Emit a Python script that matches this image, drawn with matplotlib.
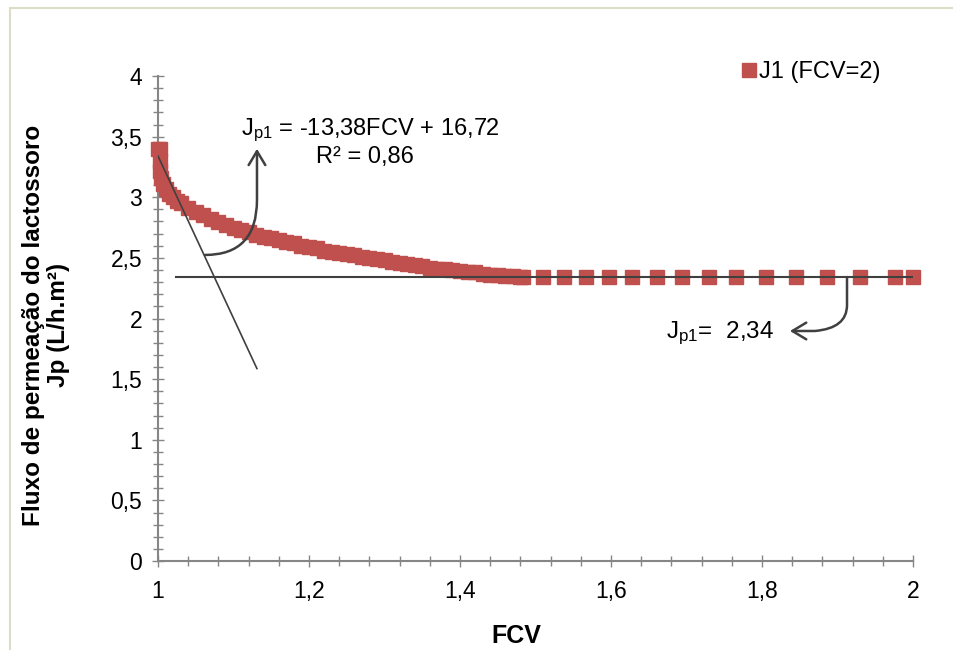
import numpy as np
import matplotlib.pyplot as plt
from matplotlib.patches import FancyArrowPatch, Rectangle
from matplotlib.path import Path
from matplotlib.ticker import MultipleLocator, FuncFormatter

plt.rcParams['font.family'] = ['Liberation Sans', 'DejaVu Sans']
plt.rcParams['mathtext.fontset'] = 'custom'
plt.rcParams['mathtext.rm'] = 'Liberation Sans'
plt.rcParams['mathtext.default'] = 'regular'

# data
fcv_dense = [1.000, 1.003, 1.002, 1.003, 1.004, 1.006, 1.010, 1.015, 1.020, 1.025,
             1.030, 1.040, 1.050, 1.060, 1.07, 1.08, 1.09, 1.10, 1.11, 1.12,
             1.13, 1.14, 1.15, 1.16, 1.17, 1.18, 1.19, 1.20, 1.21, 1.22,
             1.23, 1.24, 1.25, 1.26, 1.27, 1.28, 1.29, 1.30, 1.31, 1.32,
             1.33, 1.34, 1.35, 1.36, 1.37, 1.38, 1.39, 1.40, 1.41, 1.42,
             1.43, 1.44, 1.45, 1.46, 1.47, 1.48]
jp_dense = [3.40, 3.40, 3.30, 3.22, 3.16, 3.11, 3.07, 3.03, 3.00, 2.97,
            2.95, 2.91, 2.88, 2.85, 2.82, 2.80, 2.77, 2.75, 2.73, 2.71,
            2.69, 2.67, 2.66, 2.65, 2.63, 2.62, 2.60, 2.59, 2.58, 2.56,
            2.55, 2.54, 2.53, 2.52, 2.51, 2.50, 2.49, 2.48, 2.47, 2.46,
            2.45, 2.44, 2.43, 2.42, 2.41, 2.41, 2.40, 2.39, 2.38, 2.38,
            2.37, 2.36, 2.36, 2.35, 2.35, 2.34]
fcv_sparse = [1.483, 1.510, 1.538, 1.567, 1.597, 1.628, 1.661, 1.694, 1.730,
              1.766, 1.805, 1.845, 1.886, 1.930, 1.976, 2.000]
jp_sparse = [2.34] * len(fcv_sparse)

# trend lines
slope, intercept = -13.38, 16.72
trend_x = [1.0, 1.131]
jp_const = 2.34
const_x = [1.024, 2.0]

red = '#C0504D'
dark = '#404040'
grey = '#868686'

fig = plt.figure(figsize=(9.54, 6.5), dpi=100)
ax = fig.add_axes([158/954, 1-561/650, (913-158)/954, (561-76)/650])

fig.patches.append(Rectangle((10/954, -0.05), 1.0, 1-8/650+0.05,
                             transform=fig.transFigure, fill=False,
                             edgecolor='#DCDCC8', lw=1.5, zorder=0))

fcv = fcv_dense + fcv_sparse
jp = jp_dense + jp_sparse
ax.plot(fcv, jp, linestyle='none', marker='s', markersize=10,
        color=red, markeredgecolor=red, label='J1 (FCV=2)', zorder=3, clip_on=False)

tx = np.array(trend_x)
ax.plot(tx, slope*tx + intercept, color=dark, lw=1.2, zorder=4)
ax.plot(const_x, [jp_const, jp_const], color=dark, lw=1.5, zorder=4)

ax.set_xlim(1, 2)
ax.set_ylim(0, 4)
ax.xaxis.set_major_locator(MultipleLocator(0.2))
ax.xaxis.set_minor_locator(MultipleLocator(0.04))
ax.yaxis.set_major_locator(MultipleLocator(0.5))
ax.yaxis.set_minor_locator(MultipleLocator(0.1))
fmt = FuncFormatter(lambda v, p: ('%g' % round(v, 2)).replace('.', ','))
ax.xaxis.set_major_formatter(fmt)
ax.yaxis.set_major_formatter(fmt)

for s in ['top', 'right']:
    ax.spines[s].set_visible(False)
for s in ['left', 'bottom']:
    ax.spines[s].set_color(grey)
    ax.spines[s].set_linewidth(1.5)
ax.tick_params(which='major', direction='inout', length=9, width=1, color=grey,
               labelsize=16.5, labelcolor='black')
ax.tick_params(which='minor', direction='inout', length=7, width=1, color=grey)
ax.tick_params(axis='x', which='major', pad=9)
ax.tick_params(axis='y', which='major', pad=7)

fig.text(516/954, 1-636/650, 'FCV', fontsize=18, fontweight='bold', ha='center', va='center')
fig.text(46/954, 1-325/650, 'Fluxo de permeação do lactossoro\nJp (L/h.m²)', fontsize=17.5,
         fontweight='bold', rotation=90, ha='center', va='center', linespacing=1.1,
         multialignment='center')

# annotations
ax.text(1.281, 3.55, r'J$_{p1}$ = -13,38FCV + 16,72', fontsize=17, ha='center', va='center')
ax.text(1.274, 3.33, 'R² = 0,86', fontsize=17, ha='center', va='center')
ax.text(1.745, 1.88, r'J$_{p1}$=  2,34', fontsize=17.5, ha='center', va='center')

p1 = Path([(1.0623, 2.524), (1.1311, 2.524), (1.1311, 2.977), (1.1311, 3.40)],
          [Path.MOVETO, Path.CURVE3, Path.CURVE3, Path.LINETO])
ax.add_patch(FancyArrowPatch(path=p1, arrowstyle='->,head_length=10,head_width=6',
                             color=dark, lw=1.8, zorder=5))
p2 = Path([(1.9126, 2.342), (1.9126, 2.11), (1.9126, 1.92), (1.870, 1.897), (1.837, 1.897)],
          [Path.MOVETO, Path.LINETO, Path.CURVE3, Path.CURVE3, Path.LINETO])
ax.add_patch(FancyArrowPatch(path=p2, arrowstyle='->,head_length=10,head_width=6',
                             color=dark, lw=1.8, zorder=5))

ax.legend(loc='center left', bbox_to_anchor=(742/954, 1-72/650), bbox_transform=fig.transFigure,
          frameon=False, fontsize=17, handlelength=0.6, handletextpad=0.1, numpoints=1,
          borderaxespad=0, borderpad=0)

fig.savefig('out.png', dpi=100)
